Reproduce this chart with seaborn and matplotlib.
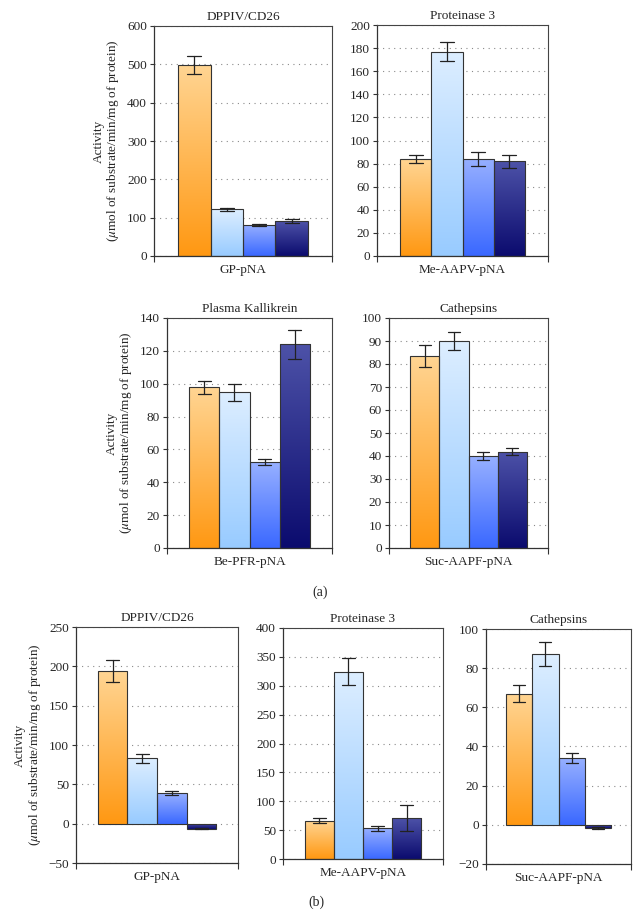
import numpy as np
import pandas as pd
import matplotlib
matplotlib.use("Agg")
import matplotlib.pyplot as plt
from matplotlib.colors import LinearSegmentedColormap
import seaborn as sns

# series (no legend in the figure)
series = ["S1", "S2", "S3", "S4"]

# (a) panels
dpp_a_mean = [499, 121.5, 81, 90.5]
dpp_a_err = [23, 5, 2.5, 5]
pr3_a_mean = [84, 177, 84, 82]
pr3_a_err = [3.5, 8, 5.8, 5.6]
pk_a_mean = [97.8, 94.9, 52.3, 123.9]
pk_a_err = [3.8, 5.2, 2.0, 8.9]
cat_a_mean = [83.6, 89.9, 40, 41.9]
cat_a_err = [4.8, 3.9, 1.7, 1.5]

# (b) panels
dpp_b_mean = [194, 83, 39.4, -6.4]
dpp_b_err = [13.5, 6, 2.5, 0.8]
pr3_b_mean = [66.2, 324.6, 53, 70.8]
pr3_b_err = [4.3, 23, 4.3, 22.7]
cat_b_mean = [67, 87.2, 34.2, -1.5]
cat_b_err = [4.5, 6, 2.5, 0.6]

# bar fills: (bottom colour, top colour)
grad_colors = [("#FF9812", "#FFD593"),
               ("#98CBFF", "#DDEEFF"),
               ("#3A68FF", "#97B0FF"),
               ("#0B0B6E", "#4D52A8")]

sns.set_theme(style="white")
plt.rcParams["font.family"] = ["Liberation Serif", "DejaVu Serif"]
plt.rcParams["mathtext.fontset"] = "stix"

YLABEL = "Activity\n($\\mu$mol of substrate/min/mg of protein)"
grad = np.linspace(0, 1, 256).reshape(-1, 1)
cmaps = [LinearSegmentedColormap.from_list(f"g{i}", c) for i, c in enumerate(grad_colors)]


def panel(ax, title, substrate, means, errs, yticks, ylabel=False):
    rows = []
    for s, m, e in zip(series, means, errs):
        rows.append((substrate, s, m - e))
        rows.append((substrate, s, m + e))
    df = pd.DataFrame(rows, columns=["substrate", "series", "value"])
    sns.barplot(data=df, x="substrate", y="value", hue="series", hue_order=series,
                palette=[c[0] for c in grad_colors], estimator="mean",
                errorbar=lambda v: (v.min(), v.max()), capsize=0.32,
                err_kws={"color": "#222222", "linewidth": 0.9},
                width=0.73, edgecolor="#333333", linewidth=0.8,
                legend=False, ax=ax)

    # gradient fill, clipped to each bar
    for patch, cmap in zip(list(ax.patches), cmaps):
        x0, y0 = patch.get_x(), patch.get_y()
        w, h = patch.get_width(), patch.get_height()
        lo, hi = min(y0, y0 + h), max(y0, y0 + h)
        im = ax.imshow(grad, cmap=cmap, extent=(x0, x0 + w, lo, hi), origin="lower",
                       aspect="auto", interpolation="bicubic", zorder=0.9)
        im.set_clip_path(patch)
        patch.set_facecolor("none")

    ax.set_xlim(-0.5, 0.5)
    ax.set_ylim(yticks[0], yticks[-1])
    ax.set_yticks(yticks)
    ax.set_axisbelow(True)
    ax.grid(axis="y", linestyle=(0, (1, 4)), color="#8a8a8a", linewidth=0.8)
    ax.grid(axis="x", visible=False)
    ax.set_title(title, fontsize=9.5, pad=4)
    ax.set_xlabel("")
    ax.set_ylabel(YLABEL if ylabel else "", fontsize=9.5, linespacing=1.05)
    ax.tick_params(axis="y", which="major", direction="out", length=3, width=0.8,
                   color="#333333", labelsize=9.5, pad=2, left=True)
    ax.tick_params(axis="x", which="major", length=0, labelsize=9.5, pad=6)
    ax.set_xticks([-0.5, 0.5], minor=True)
    ax.tick_params(axis="x", which="minor", direction="out", length=4, width=0.8,
                   color="#333333", bottom=True)
    for side in ["left", "bottom"]:
        ax.spines[side].set_color("#333333")
        ax.spines[side].set_linewidth(0.9)
    for side in ["top", "right"]:
        ax.spines[side].set_color("#444444")
        ax.spines[side].set_linewidth(0.8)


fig = plt.figure(figsize=(6.4, 9.16), dpi=100)

W, H = 640, 916


def add_axes(x0, x1, y0, y1):
    return fig.add_axes([x0 / W, 1 - y1 / H, (x1 - x0) / W, (y1 - y0) / H])


ax1 = add_axes(154, 332, 26, 256)
ax2 = add_axes(377, 548, 25, 256)
ax3 = add_axes(167, 332, 318, 548)
ax4 = add_axes(389, 548, 318, 548)
ax5 = add_axes(76, 238, 627, 863)
ax6 = add_axes(283, 443, 628, 859)
ax7 = add_axes(486, 631, 629, 864)

panel(ax1, "DPPIV/CD26", "GP-pNA", dpp_a_mean, dpp_a_err, np.arange(0, 601, 100), ylabel=True)
panel(ax2, "Proteinase 3", "Me-AAPV-pNA", pr3_a_mean, pr3_a_err, np.arange(0, 201, 20))
panel(ax3, "Plasma Kallikrein", "Be-PFR-pNA", pk_a_mean, pk_a_err, np.arange(0, 141, 20), ylabel=True)
panel(ax4, "Cathepsins", "Suc-AAPF-pNA", cat_a_mean, cat_a_err, np.arange(0, 101, 10))
panel(ax5, "DPPIV/CD26", "GP-pNA", dpp_b_mean, dpp_b_err, np.arange(-50, 251, 50), ylabel=True)
panel(ax6, "Proteinase 3", "Me-AAPV-pNA", pr3_b_mean, pr3_b_err, np.arange(0, 401, 50))
panel(ax7, "Cathepsins", "Suc-AAPF-pNA", cat_b_mean, cat_b_err, np.arange(-20, 101, 20))

fig.text(320 / W, 1 - 592 / H, "(a)", ha="center", va="center", fontsize=10)
fig.text(316 / W, 1 - 902 / H, "(b)", ha="center", va="center", fontsize=10)

fig.savefig("out.png", dpi=100)
